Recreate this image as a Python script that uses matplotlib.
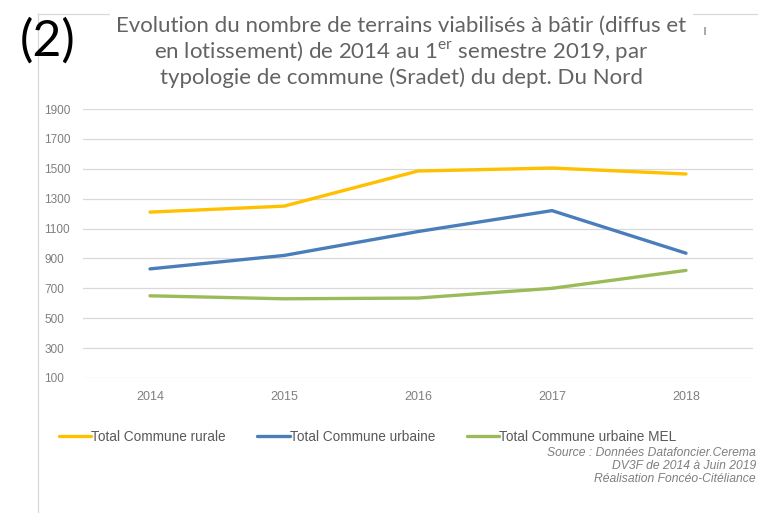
import matplotlib.pyplot as plt
import numpy as np

plt.rcParams['font.family'] = ['Liberation Sans', 'DejaVu Sans']
plt.rcParams['mathtext.fontset'] = 'custom'
plt.rcParams['mathtext.rm'] = 'Lato'

years = ['2014', '2015', '2016', '2017', '2018']
rurale = [1210, 1250, 1485, 1505, 1465]
urbaine = [830, 920, 1080, 1220, 935]
urbaine_mel = [650, 630, 635, 700, 820]
yticks = [100, 300, 500, 700, 900, 1100, 1300, 1500, 1700, 1900]

fig = plt.figure(figsize=(7.58, 5.13), dpi=100)
ax = fig.add_axes([83/758, 135/513, 670/758, 269/513])

x = np.arange(len(years))
ax.plot(x, rurale, color='#FFC000', lw=2.4, label='Total Commune rurale', solid_capstyle='round')
ax.plot(x, urbaine, color='#4A7EBB', lw=2.4, label='Total Commune urbaine', solid_capstyle='round')
ax.plot(x, urbaine_mel, color='#9BBB59', lw=2.4, label='Total Commune urbaine MEL', solid_capstyle='round')

ax.set_xlim(-0.5, 4.5)
ax.set_ylim(100, 1900)
ax.set_yticks(yticks)
ax.set_xticks(x)
ax.set_xticklabels(years)
ax.tick_params(length=0, colors='#7F7F7F', labelsize=8.5)
ax.tick_params(axis='x', labelsize=9)
ax.tick_params(axis='y', pad=28)
ax.tick_params(axis='x', pad=9)
for lab in ax.get_yticklabels():
    lab.set_horizontalalignment('left')
ax.grid(axis='y', color='#D9D9D9', lw=0.9)
ax.set_axisbelow(True)
for s in ax.spines.values():
    s.set_visible(False)

# chart frame remnants
fig.add_artist(plt.Line2D([38/758, 38/758], [0, 1 - 14/513], color='#D9D9D9', lw=0.9))
fig.add_artist(plt.Line2D([38/758, 1], [1 - 14/513, 1 - 14/513], color='#D9D9D9', lw=0.9))

fig.text(401/758, 1 - 52/513,
         'Evolution du nombre de terrains viabilisés à bâtir (diffus et\n'
         'en lotissement) de 2014 au 1$^{\\mathrm{er}}$ semestre 2019, par\n'
         'typologie de commune (Sradet) du dept. Du Nord',
         ha='center', va='center', fontsize=16, color='#636363', family='Lato',
         linespacing=1.17, backgroundcolor='white')
fig.text(705/758, 1 - 31/513, 'ı', fontsize=10, color='#7F7F7F', ha='center', va='center')
fig.text(20/758, 1 - 41/513, '(2)', fontsize=36, color='black', family='Lato', va='center')

ax.legend(loc='center', bbox_to_anchor=(0.425, (76 - 135) / 269),
          ncol=3, frameon=False, fontsize=9.8, labelcolor='#595959',
          handlelength=2.4, handletextpad=0.0, columnspacing=2.3,
          bbox_transform=ax.transAxes)

fig.text(756/758, 1 - 466/513,
         'Source : Données Datafoncier.Cerema\nDV3F de 2014 à Juin 2019\nRéalisation Foncéo-Citéliance',
         ha='right', va='center', fontsize=8.7, style='italic', color='#7F7F7F', linespacing=1.1)

plt.savefig('out.png', dpi=100)
